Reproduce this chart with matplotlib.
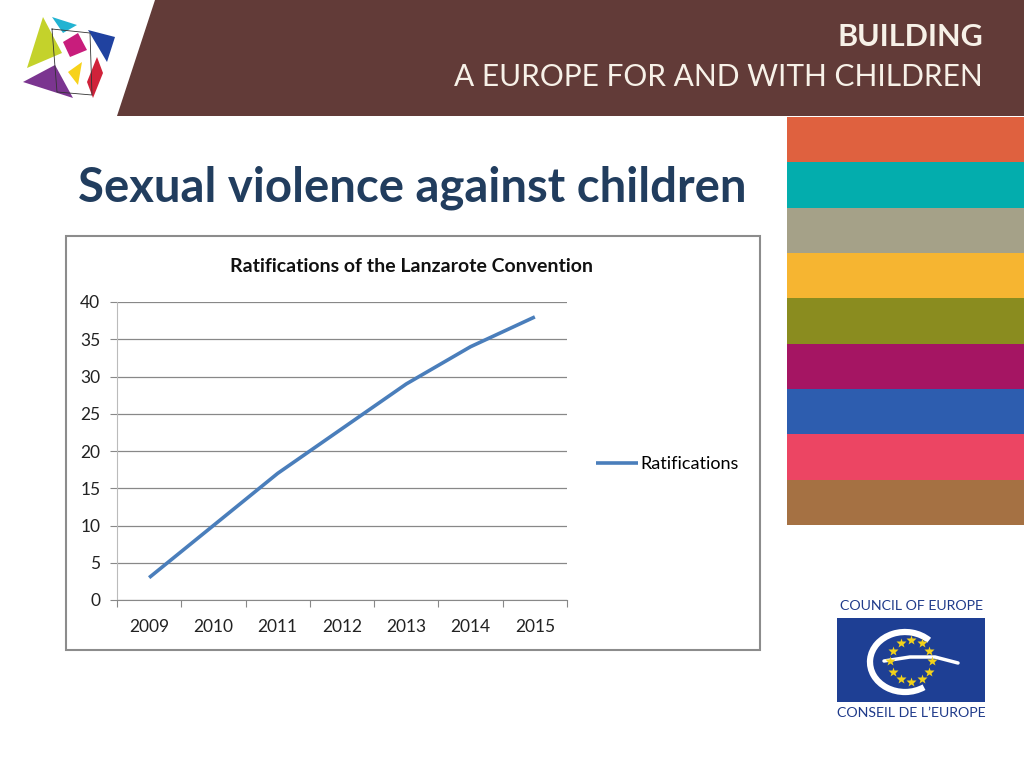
import matplotlib
matplotlib.use("Agg")
import matplotlib.pyplot as plt
import matplotlib.patches as patches
import numpy as np

# Chart data
years = ["2009", "2010", "2011", "2012", "2013", "2014", "2015"]
ratifications = [3, 10, 17, 23, 29, 34, 38]
y_ticks = [0, 5, 10, 15, 20, 25, 30, 35, 40]

# Right-hand colour stripes of the slide template
stripe_colors = ["#DF613F", "#03ADAD", "#A5A188", "#F6B531", "#8A8C1F",
                 "#A51563", "#2D5DAF", "#EC4563", "#A57143"]

TITLE_BLUE = "#213D5E"
LINE_BLUE = "#4A7EBB"
HEADER_BROWN = "#623B38"

plt.rcParams["font.family"] = ["Lato", "DejaVu Sans"]

fig = plt.figure(figsize=(10.24, 7.68), dpi=100)

# Background axes in pixel coordinates
bg = fig.add_axes([0, 0, 1, 1])
bg.set_xlim(0, 1024)
bg.set_ylim(768, 0)
bg.axis("off")

# Header banner
bg.add_patch(patches.Polygon([(155, 0), (1024, 0), (1024, 116), (117, 116)],
                             closed=True, color=HEADER_BROWN, lw=0))
bg.text(983, 37, "BUILDING", ha="right", va="center", color="#F7F1E8",
        fontsize=22, fontweight="bold")
bg.text(983, 77, "A EUROPE FOR AND WITH CHILDREN", ha="right", va="center",
        color="#F7F1E8", fontsize=21.5)

# Left logo (coloured shapes)
logo_shapes = [
    ([(43, 17), (27, 68), (62, 53)], "#C4D22B"),
    ([(52, 17), (77, 25), (63, 33)], "#22B3D2"),
    ([(63, 42), (78, 33), (87, 50), (70, 57)], "#C81D7C"),
    ([(88, 30), (115, 37), (107, 62)], "#2042A0"),
    ([(68, 72), (82, 62), (78, 85)], "#F7D21A"),
    ([(97, 57), (103, 73), (93, 98), (87, 82)], "#D0223A"),
    ([(23, 82), (55, 65), (73, 98)], "#7B3590"),
]
bg.plot([52, 90, 92, 57, 52], [29, 33, 95, 92, 29], color="#333333", lw=0.6)
for pts, c in logo_shapes:
    bg.add_patch(patches.Polygon(pts, closed=True, color=c, lw=0))

# Colour stripes
stripe_h = (525 - 117) / len(stripe_colors)
for i, c in enumerate(stripe_colors):
    bg.add_patch(patches.Rectangle((787, 117 + i * stripe_h), 237, stripe_h,
                                   color=c, lw=0))

# Slide title
bg.text(78, 188, "Sexual violence against children", ha="left", va="center",
        color=TITLE_BLUE, fontsize=34, fontweight="bold")

# Chart frame
bg.add_patch(patches.Rectangle((66, 236), 694, 414, fill=False,
                               edgecolor="#8C8C8C", lw=1.5))
bg.text(412, 266, "Ratifications of the Lanzarote Convention", ha="center",
        va="center", fontsize=14, fontweight="bold", color="#111111")

# Council of Europe logo
bg.text(911, 606, "COUNCIL OF EUROPE", ha="center", va="center",
        color="#1F3A8A", fontsize=10.2)
bg.add_patch(patches.Rectangle((837, 618), 148, 84, color="#1E3F94", lw=0))
bg.text(911, 713, "CONSEIL DE L\u2019EUROPE", ha="center", va="center",
        color="#1F3A8A", fontsize=10.2)
bg.add_patch(patches.Arc((905, 662), 70, 60, angle=0, theta1=53, theta2=318,
                         color="white", lw=4.5))
bg.plot([884, 910, 935, 958], [661, 657, 657, 663], color="white", lw=2.5,
        solid_capstyle="round")
ang = np.linspace(0, 2 * np.pi, 12, endpoint=False)
bg.plot(911 + 21 * np.cos(ang), 661 + 21 * np.sin(ang), ls="none",
        marker="*", ms=7, color="#F2D21B", mec="none")

# Line chart
ax = fig.add_axes([117 / 1024, 1 - 600 / 768, 450 / 1024, 298 / 768])
x = np.arange(len(years)) + 0.5
ax.plot(x, ratifications, color=LINE_BLUE, lw=2.6, label="Ratifications",
        solid_capstyle="butt")
ax.set_xlim(0, len(years))
ax.set_ylim(0, 40)
ax.set_yticks(y_ticks)
ax.set_xticks(np.arange(len(years) + 1))
ax.set_xticklabels([])
ax.set_xticks(x, minor=True)
ax.set_xticklabels(years, minor=True)
ax.tick_params(axis="x", which="major", length=5, color="#888888", direction="out")
ax.tick_params(axis="x", which="minor", length=0, pad=14, labelsize=12.5,
               labelcolor="#222222")
ax.tick_params(axis="y", length=5, color="#888888", pad=7, labelsize=12.5,
               labelcolor="#222222")
ax.grid(axis="y", color="#888888", lw=0.9)
ax.set_axisbelow(True)
for s in ["top", "right"]:
    ax.spines[s].set_visible(False)
ax.spines["left"].set_color("#BBBBBB")
ax.spines["bottom"].set_color("#888888")
ax.patch.set_alpha(0)

ax.legend(loc="center left", bbox_to_anchor=(596 / 1024, 1 - 464 / 768),
          bbox_transform=fig.transFigure, frameon=False, fontsize=13,
          handlelength=2.3, handletextpad=0.15, borderpad=0, borderaxespad=0)

fig.savefig("out.png", dpi=100)
